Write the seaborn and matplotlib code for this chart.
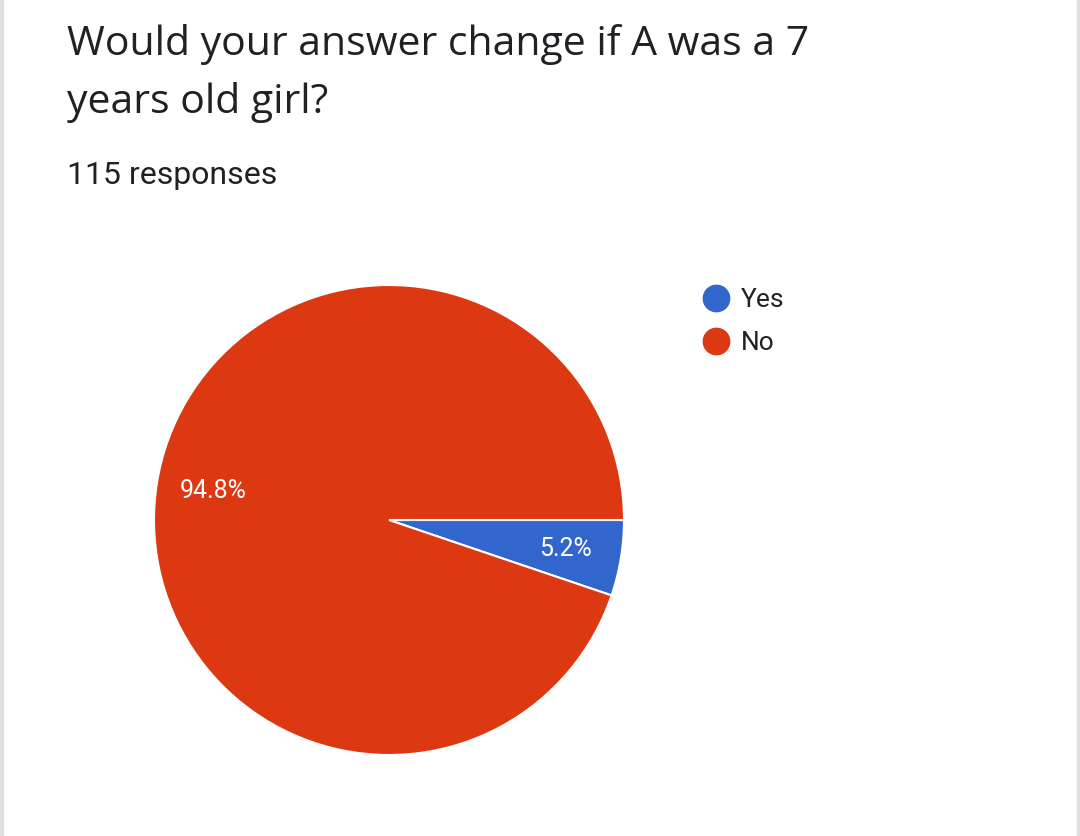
import matplotlib
matplotlib.use("Agg")
import matplotlib.pyplot as plt
from matplotlib.lines import Line2D
from matplotlib.patches import Rectangle
import seaborn as sns

categories = ["Yes", "No"]
values = [5.2, 94.8]
colors = ["#3366CC", "#DC3912"]
title_lines = ["Would your answer change if A was a 7", "years old girl?"]
subtitle = "115 responses"

sns.set_theme(style="white")
plt.rcParams["font.family"] = ["Roboto", "DejaVu Sans"]

W, H = 1080, 836
fig = plt.figure(figsize=(W / 100, H / 100), dpi=100)
fig.patch.set_facecolor("white")

# light side borders
fig.patches.append(Rectangle((0, 0), 3 / W, 1, transform=fig.transFigure, color="#e0e0e0", zorder=0))
fig.patches.append(Rectangle((1 - 3 / W, 0), 3 / W, 1, transform=fig.transFigure, color="#e0e0e0", zorder=0))

cx, cy, r = 389, 520, 235
ax = fig.add_axes([(cx - r) / W, (H - cy - r) / H, 2 * r / W, 2 * r / H])
wedges, texts, autotexts = ax.pie(
    values, colors=colors, startangle=0, counterclock=False,
    autopct="%1.1f%%", pctdistance=0.76, radius=1,
    wedgeprops=dict(edgecolor="white", linewidth=1.5),
    textprops=dict(color="white", fontsize=18),
)
ax.set_xlim(-1, 1)
ax.set_ylim(-1, 1)
ax.set_aspect("equal")
ax.axis("off")

title_font = ["Open Sans", "Roboto", "DejaVu Sans"]
fig.text(67 / W, 1 - 55 / H, title_lines[0], fontsize=29.5, color="#202124", va="baseline", ha="left", family=title_font)
fig.text(67 / W, 1 - 113 / H, title_lines[1], fontsize=29.5, color="#202124", va="baseline", ha="left", family=title_font)
fig.text(67 / W, 1 - 184 / H, subtitle, fontsize=23, color="#202124", va="baseline", ha="left")

handles = [Line2D([0], [0], marker="o", linestyle="", markersize=19,
                  markerfacecolor=c, markeredgecolor=c) for c in colors]
fig.legend(handles, categories, loc="upper left", bbox_to_anchor=(703 / W, 1 - 288 / H),
           frameon=False, fontsize=19, handletextpad=0.42, labelspacing=0.71,
           handlelength=1.0, borderpad=0, borderaxespad=0, labelcolor="#202124")

fig.savefig("out.png", dpi=100, facecolor="white")
